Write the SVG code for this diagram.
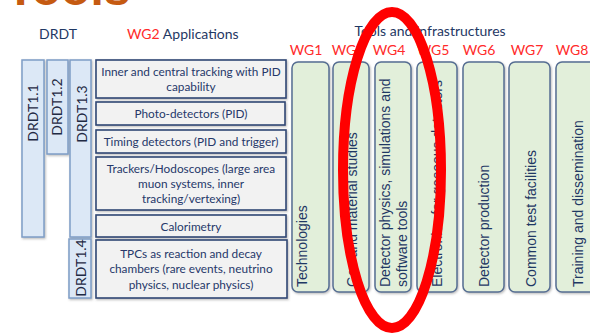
<svg xmlns="http://www.w3.org/2000/svg" width="590" height="334" viewBox="0 0 590 334">
<defs>
<filter id="sh" x="-10%" y="-10%" width="130%" height="130%">
<feDropShadow dx="1" dy="1.2" stdDeviation="0.8" flood-color="#666" flood-opacity="0.45"/>
</filter>
</defs>
<style>
.hdr{font-family:Lato,"Liberation Sans",sans-serif;font-size:14px;fill:#1f3864}
.wg{font-family:Lato,"Liberation Sans",sans-serif;font-size:14px;fill:#ff2a2a}
.drdt rect{fill:#dce8f6;stroke:#7e9dc6;stroke-width:1.5}
.drdt text{font-family:Lato,"Liberation Sans",sans-serif;font-size:14px;fill:#1f2a44;text-anchor:middle}
.app rect{fill:#f2f2f2;stroke:#2f4674;stroke-width:1.6}
.app text{font-family:Lato,"Liberation Sans",sans-serif;font-size:11.8px;fill:#26386a;text-anchor:middle}
.wgc rect{fill:#e2efda;stroke:#566e92;stroke-width:1.5}
.wgc text{font-family:"Liberation Sans",Arial,sans-serif;font-size:14px;fill:#1f3864}
</style>
<rect width="590" height="334" fill="#ffffff"/>
<text x="6" y="5" font-family="Liberation Sans, sans-serif" font-weight="bold" font-size="48" fill="#c55a11">Tools</text>

<text class="hdr" x="58" y="39" text-anchor="middle">DRDT</text>
<text class="hdr" x="127" y="39"><tspan fill="#ff2a2a">WG2</tspan> Applications</text>
<text class="hdr" x="430" y="36" text-anchor="middle">Tools and infrastructures</text>

<g id="drdt11" class="drdt"><rect x="22" y="60" width="22" height="177" filter="url(#sh)"/><text transform="translate(38,113) rotate(-90)">DRDT1.1</text></g>
<g id="drdt12" class="drdt"><rect x="47" y="60" width="21" height="94" filter="url(#sh)"/><text transform="translate(62,107) rotate(-90)">DRDT1.2</text></g>
<g id="drdt13" class="drdt"><rect x="70" y="60" width="21" height="177" filter="url(#sh)"/><text transform="translate(87,114) rotate(-90)">DRDT1.3</text></g>
<g id="drdt14" class="drdt"><rect x="69" y="239" width="22" height="59" filter="url(#sh)"/><text transform="translate(86,268) rotate(-90)">DRDT1.4</text></g>

<g id="app1" class="app"><rect x="96" y="60" width="190" height="38" filter="url(#sh)"/><text x="191" y="76">Inner and central tracking with PID</text><text x="191" y="91">capability</text></g>
<g id="app2" class="app"><rect x="96" y="102" width="189" height="23" filter="url(#sh)"/><text x="191" y="118">Photo-detectors (PID)</text></g>
<g id="app3" class="app"><rect x="96" y="130" width="190" height="23" filter="url(#sh)"/><text x="191" y="146">Timing detectors (PID and trigger)</text></g>
<g id="app4" class="app"><rect x="96" y="157" width="190" height="53" filter="url(#sh)"/><text x="191" y="173">Trackers/Hodoscopes (large area</text><text x="191" y="188">muon systems, inner</text><text x="191" y="203">tracking/vertexing)</text></g>
<g id="app5" class="app"><rect x="96" y="215" width="190" height="22" filter="url(#sh)"/><text x="191" y="231">Calorimetry</text></g>
<g id="app6" class="app"><rect x="96" y="240" width="191" height="58" filter="url(#sh)"/><text x="191" y="258">TPCs as reaction and decay</text><text x="191" y="273">chambers (rare events, neutrino</text><text x="191" y="289">physics, nuclear physics)</text></g>

<text class="wg" x="306" y="55" text-anchor="middle">WG1</text>
<text class="wg" x="348" y="55" text-anchor="middle">WG3</text>
<text class="wg" x="389" y="55" text-anchor="middle">WG4</text>
<text class="wg" x="433" y="55" text-anchor="middle">WG5</text>
<text class="wg" x="479" y="55" text-anchor="middle">WG6</text>
<text class="wg" x="527" y="55" text-anchor="middle">WG7</text>
<text class="wg" x="572" y="55" text-anchor="middle">WG8</text>

<g id="wg1" class="wgc"><rect x="292" y="62" width="37" height="230" rx="6" filter="url(#sh)"/><text transform="translate(307,287) rotate(-90)">Technologies</text></g>
<g id="wg3" class="wgc"><rect x="333" y="62" width="36" height="230" rx="6" filter="url(#sh)"/><text transform="translate(357,287) rotate(-90)">Gas and material studies</text></g>
<g id="wg4" class="wgc"><rect x="375" y="62" width="36" height="230" rx="6" filter="url(#sh)"/><text transform="translate(390,287) rotate(-90)">Detector physics, simulations and</text><text transform="translate(407,287) rotate(-90)">software tools</text></g>
<g id="wg5" class="wgc"><rect x="417" y="62" width="40" height="230" rx="6" filter="url(#sh)"/><text transform="translate(442,287) rotate(-90)">Electronics for gaseous detectors</text></g>
<g id="wg6" class="wgc"><rect x="463" y="62" width="41" height="230" rx="6" filter="url(#sh)"/><text transform="translate(489,287) rotate(-90)">Detector production</text></g>
<g id="wg7" class="wgc"><rect x="509" y="62" width="41" height="230" rx="6" filter="url(#sh)"/><text transform="translate(536,287) rotate(-90)">Common test facilities</text></g>
<g id="wg8" class="wgc"><rect x="556" y="62" width="44" height="230" rx="6" filter="url(#sh)"/><text transform="translate(583,287) rotate(-90)">Training and dissemination</text></g>

<g id="connectors"></g>

<ellipse id="highlight" cx="392" cy="170" rx="49" ry="158" fill="none" stroke="#ff0000" stroke-width="10"/>
</svg>
